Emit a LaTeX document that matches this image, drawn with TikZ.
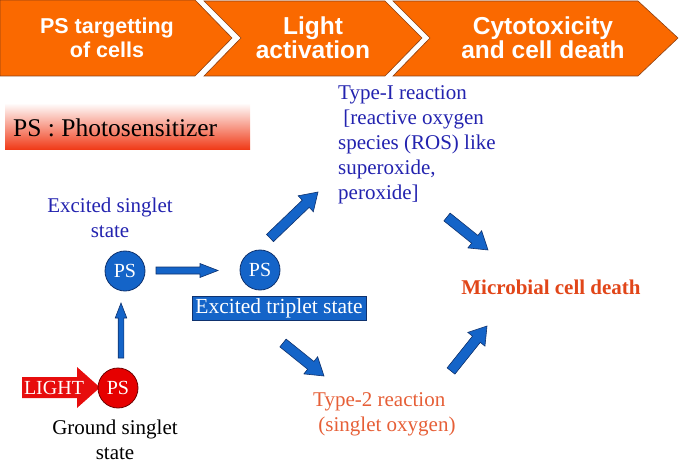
\documentclass[tikz,border=0pt]{standalone}
\usepackage{fontspec}
\setmainfont{Liberation Serif}
\newfontfamily\hdfont{Liberation Sans}
\usetikzlibrary{calc}
\definecolor{chev}{RGB}{250,105,0}
\definecolor{chevline}{RGB}{140,65,20}
\definecolor{psblue}{RGB}{20,100,200}
\definecolor{psline}{RGB}{15,50,110}
\definecolor{txtblue}{RGB}{35,35,175}
\definecolor{psred}{RGB}{230,0,0}
\definecolor{redline}{RGB}{110,0,0}
\definecolor{t2col}{RGB}{230,95,55}
\definecolor{mcol}{RGB}{225,70,25}
\definecolor{pbar}{RGB}{240,55,20}
\tikzset{
  chevron/.style={fill=chev, draw=chevline, line width=0.6pt},
  chevtext/.style={text=white, align=center, inner sep=0pt},
  pscircle/.style={circle, minimum size=40pt, inner sep=0pt, draw=psline, line width=0.8pt, fill=psblue, text=white, font=\fontsize{20}{22}\selectfont},
  bluetext/.style={text=txtblue, font=\fontsize{21}{25}\selectfont, inner sep=0pt},
  barrow/.style={fill=psblue, draw=psline, line width=0.6pt},
  rarrow/.style={fill=psred!95!white, draw=none},
}
\newcommand{\blockarrow}[6][barrow]{%
  \coordinate (hb) at ($(#3)!#6!(#2)$);
  \draw[#1] ($(#2)!#4!90:(#3)$)
    -- ($(hb)!#4!-90:(#2)$)
    -- ($(hb)!#5!-90:(#2)$)
    -- (#3)
    -- ($(hb)!#5!90:(#2)$)
    -- ($(hb)!#4!90:(#2)$)
    -- ($(#2)!#4!-90:(#3)$) -- cycle;}
\begin{document}
\begin{tikzpicture}[x=1pt,y=-1pt]
\useasboundingbox (0,0) rectangle (679,470);
% chevrons
\draw[chevron] (0,0) -- (195,0) -- (232,38) -- (195,76) -- (0,76) -- cycle;
\draw[chevron] (204,1) -- (385,1) -- (422,38) -- (385,76) -- (204,76) -- (241,38) -- cycle;
\draw[chevron] (393,1) -- (638,1) -- (678,38) -- (638,76) -- (393,76) -- (430,38) -- cycle;
\node[chevtext, font=\hdfont\bfseries\fontsize{21.5}{24}\selectfont] (c1) at (107,38) {PS targetting\\of cells};
\node[chevtext, font=\hdfont\bfseries\fontsize{24.5}{24}\selectfont] (c2) at (313,38) {Light\\activation};
\node[chevtext, font=\hdfont\bfseries\fontsize{24.5}{24}\selectfont] (c3) at (543,38) {Cytotoxicity\\and cell death};
% photosensitizer bar
\shade[top color=white, middle color=pbar!18, bottom color=pbar] (5,103) rectangle (250,150);
\node[anchor=west, inner sep=0pt, font=\fontsize{25.5}{28}\selectfont] (pslabel) at (13,128) {PS : Photosensitizer};
% states
\node[bluetext, align=center] (singtxt) at (110,218) {Excited singlet\\state};
\node[pscircle] (singlet) at (125,271) {PS};
\node[pscircle] (triplet) at (260,270) {PS};
\node[fill=psblue, draw=psline, line width=0.6pt, text=white, minimum width=174pt, minimum height=24pt, inner sep=0pt, font=\fontsize{21.5}{24}\selectfont] (triptxt) at (279,308) {Excited triplet state};
% light arrow and ground state
\coordinate (ls) at (22,387.5);
\coordinate (le) at (100,387.5);
\blockarrow[rarrow]{ls}{le}{10.5pt}{20.5pt}{23pt}
\node[text=white, inner sep=0pt, font=\fontsize{20}{22}\selectfont] (light) at (54,388) {LIGHT};
\node[pscircle, fill=psred, draw=redline] (ground) at (118,388) {PS};
\node[align=center, inner sep=0pt, font=\fontsize{21}{25}\selectfont] (groundtxt) at (115,440) {Ground singlet\\state};
% reactions
\node[bluetext, align=left, anchor=west] (type1) at (338,145) {Type-I reaction\\\ [reactive oxygen\\species (ROS) like\\superoxide,\\peroxide]};
\node[text=t2col, align=left, anchor=west, inner sep=0pt, font=\fontsize{21}{25}\selectfont] (type2) at (313,414.5) {Type-2 reaction\\\ (singlet oxygen)};
\node[text=mcol, inner sep=0pt, font=\bfseries\fontsize{21}{25}\selectfont] (death) at (551,287) {Microbial cell death};
% arrows
\coordinate (a1s) at (121,358); \coordinate (a1e) at (121,303);
\blockarrow{a1s}{a1e}{2.8pt}{5.8pt}{15pt}
\coordinate (a2s) at (156,270.5); \coordinate (a2e) at (218,270.5);
\blockarrow{a2s}{a2e}{3.5pt}{7pt}{18pt}
\coordinate (a3s) at (270,238); \coordinate (a3e) at (318,192);
\blockarrow{a3s}{a3e}{5pt}{11pt}{17pt}
\coordinate (a4s) at (447,217); \coordinate (a4e) at (488,250);
\blockarrow{a4s}{a4e}{5pt}{11pt}{17pt}
\coordinate (a5s) at (283,343); \coordinate (a5e) at (324,376);
\blockarrow{a5s}{a5e}{5pt}{11pt}{17pt}
\coordinate (a6s) at (451,371); \coordinate (a6e) at (487,326);
\blockarrow{a6s}{a6e}{5pt}{11pt}{17pt}
\end{tikzpicture}
\end{document}
